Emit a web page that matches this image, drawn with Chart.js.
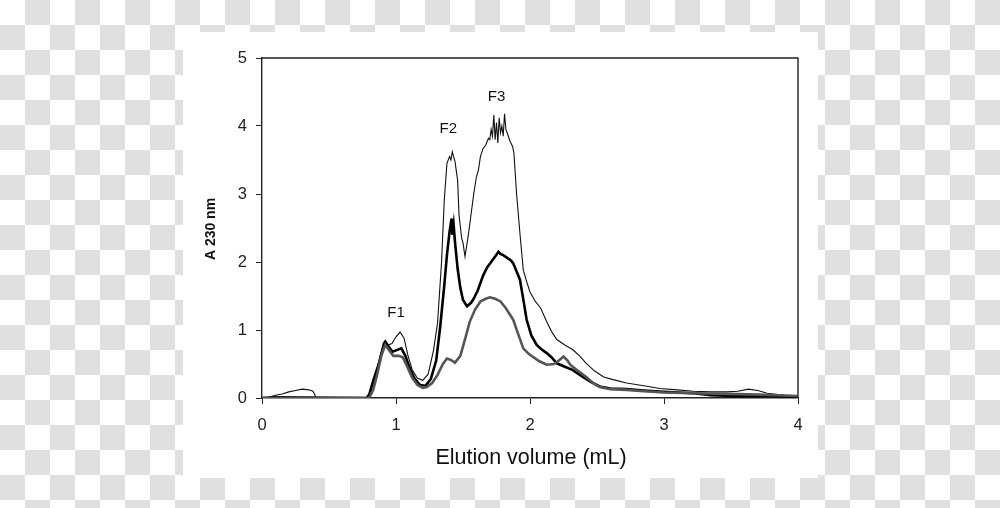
<!DOCTYPE html>
<html>
<head>
<meta charset="utf-8">
<script src="https://cdn.jsdelivr.net/npm/chart.js@4/dist/chart.umd.min.js"></script>
<style>
    html, body { margin: 0; padding: 0; }
    body {
        width: 1000px; height: 508px; overflow: hidden; position: relative;
        background-color: #fff;
        background-image: conic-gradient(#e0e0e0 25%, #fff 0 50%, #e0e0e0 0 75%, #fff 0);
        background-size: 50px 50px;
    }
    #panel { position: absolute; left: 183px; top: 32px; width: 635px; height: 446px; background: #fff; }
    #chart { position: absolute; left: 0; top: 0; }
</style>
</head>
<body>
<div id="panel"></div>
<canvas id="chart" width="1000" height="508"></canvas>
<script>
// elution volume (mL) / absorbance at 230 nm
var thinX = [0, 0.05, 0.1, 0.15, 0.2, 0.25, 0.3, 0.35, 0.38, 0.395, 0.4, 0.78, 0.81, 0.85, 0.88, 0.91, 0.94, 0.97, 1.0, 1.03,
    1.06, 1.09, 1.12, 1.16, 1.2, 1.24, 1.28, 1.31, 1.34, 1.36, 1.38, 1.4, 1.41, 1.42, 1.43, 1.44, 1.46, 1.47, 1.49, 1.5,
    1.515, 1.54, 1.57, 1.58, 1.6, 1.615, 1.63, 1.65, 1.67, 1.69, 1.7, 1.71, 1.72, 1.73, 1.74, 1.75, 1.76, 1.77, 1.78, 1.79,
    1.8, 1.81, 1.82, 1.83, 1.85, 1.87, 1.88, 1.9, 1.925, 1.95, 1.98, 2.0, 2.04, 2.08, 2.125, 2.16, 2.2, 2.26, 2.32, 2.37,
    2.42, 2.48, 2.55, 2.62, 2.72, 2.85, 2.97, 3.1, 3.22, 3.35, 3.47, 3.55, 3.63, 3.7, 3.77, 3.9, 4.0];
var thinY = [0, 0.01, 0.04, 0.06, 0.09, 0.11, 0.13, 0.12, 0.10, 0.05, 0, 0, 0.08, 0.35, 0.62, 0.80, 0.78, 0.80, 0.90, 0.97,
    0.88, 0.62, 0.42, 0.29, 0.26, 0.35, 0.70, 1.10, 2.00, 2.90, 3.45, 3.55, 3.50, 3.62, 3.55, 3.48, 3.20, 2.70, 2.35, 2.28,
    2.08, 2.40, 2.85, 3.00, 3.25, 3.35, 3.55, 3.67, 3.72, 3.82, 3.80, 3.95, 3.85, 4.16, 3.80, 4.05, 3.75, 4.12, 3.90, 4.00,
    3.85, 4.18, 3.95, 3.90, 3.78, 3.70, 3.60, 3.00, 2.42, 1.88, 1.68, 1.56, 1.42, 1.32, 1.12, 0.98, 0.86, 0.78, 0.71, 0.62,
    0.51, 0.40, 0.31, 0.27, 0.22, 0.18, 0.14, 0.12, 0.10, 0.09, 0.09, 0.10, 0.13, 0.11, 0.07, 0.04, 0.03];

var boldX = [0, 0.1, 0.78, 0.8, 0.83, 0.856, 0.88, 0.91, 0.92, 0.95, 0.975, 1.0, 1.04, 1.07, 1.1, 1.14, 1.18, 1.22, 1.26, 1.3,
    1.33, 1.36, 1.38, 1.4, 1.415, 1.42, 1.43, 1.44, 1.46, 1.48, 1.5, 1.53, 1.56, 1.58, 1.61, 1.65, 1.68, 1.71, 1.74, 1.765,
    1.78, 1.8, 1.83, 1.86, 1.875, 1.9, 1.925, 1.95, 1.975, 2.01, 2.05, 2.09, 2.125, 2.16, 2.2, 2.26, 2.32, 2.38, 2.45, 2.52,
    2.6, 2.72, 2.85, 3.0, 3.22, 3.35, 3.5, 3.8, 4.0];
var boldY = [0, 0.01, 0, 0.05, 0.25, 0.41, 0.55, 0.80, 0.83, 0.74, 0.68, 0.70, 0.73, 0.62, 0.45, 0.28, 0.19, 0.18, 0.28, 0.55,
    1.05, 1.65, 2.10, 2.45, 2.64, 2.40, 2.55, 2.30, 1.90, 1.62, 1.44, 1.35, 1.40, 1.46, 1.58, 1.80, 1.92, 2.00, 2.08, 2.15,
    2.12, 2.10, 2.06, 2.02, 1.98, 1.86, 1.74, 1.45, 1.15, 0.92, 0.78, 0.71, 0.66, 0.60, 0.51, 0.46, 0.41, 0.33, 0.24, 0.17,
    0.14, 0.13, 0.11, 0.09, 0.07, 0.04, 0.03, 0.03, 0.02];

var greyX = [0, 0.8, 0.83, 0.86, 0.89, 0.92, 0.95, 0.98, 1.02, 1.05, 1.08, 1.12, 1.16, 1.2, 1.23, 1.27, 1.31, 1.35, 1.38, 1.41,
    1.44, 1.48, 1.52, 1.55, 1.59, 1.63, 1.67, 1.7, 1.74, 1.78, 1.82, 1.875, 1.91, 1.95, 1.99, 2.025, 2.07, 2.125, 2.18, 2.22,
    2.25, 2.28, 2.3, 2.35, 2.42, 2.47, 2.52, 2.6, 2.72, 2.85, 3.0, 3.22, 3.47, 3.7, 3.85, 4.0];
var greyY = [0, 0, 0.12, 0.35, 0.62, 0.78, 0.70, 0.62, 0.62, 0.60, 0.48, 0.30, 0.19, 0.15, 0.16, 0.22, 0.34, 0.50, 0.58, 0.56,
    0.52, 0.62, 0.90, 1.12, 1.30, 1.42, 1.46, 1.48, 1.46, 1.42, 1.32, 1.15, 0.95, 0.73, 0.65, 0.60, 0.54, 0.49, 0.50, 0.56,
    0.61, 0.55, 0.49, 0.41, 0.31, 0.22, 0.16, 0.13, 0.12, 0.10, 0.08, 0.07, 0.06, 0.05, 0.04, 0.03];

var xTicks = [0, 1, 2, 3, 4];
var yTicks = [0, 1, 2, 3, 4, 5];
var peakNames = ['F1', 'F2', 'F3'];
var peakX = [1.0, 1.39, 1.75];
var peakY = [1.25, 3.96, 4.43];

var toPoints = function (xs, ys) {
    return xs.map(function (x, i) { return { x: x, y: ys[i] }; });
};

var fontName = '"Liberation Sans", Arial, sans-serif';

// frame on top/right, peak names and axis titles
var extras = {
    id: 'extras',
    afterDraw: function (chart) {
        var ctx = chart.ctx;
        var a = chart.chartArea;
        var sx = chart.scales.x;
        var sy = chart.scales.y;
        ctx.save();
        ctx.strokeStyle = '#222';
        ctx.lineWidth = 1.4;
        ctx.beginPath();
        ctx.moveTo(a.left, a.top);
        ctx.lineTo(a.right, a.top);
        ctx.lineTo(a.right, a.bottom);
        ctx.stroke();

        ctx.fillStyle = '#111';
        ctx.textAlign = 'center';
        ctx.textBaseline = 'middle';
        ctx.font = '15px ' + fontName;
        peakNames.forEach(function (n, i) {
            ctx.fillText(n, sx.getPixelForValue(peakX[i]), sy.getPixelForValue(peakY[i]));
        });

        ctx.font = '21.5px ' + fontName;
        ctx.fillText('Elution volume (mL)', 531, 458);

        ctx.translate(211, 229);
        ctx.rotate(-Math.PI / 2);
        ctx.font = 'bold 14px ' + fontName;
        ctx.fillText('A 230 nm', 0, 0);
        ctx.restore();
    }
};

var lineSet = function (label, xs, ys, color, width) {
    return {
        label: label,
        data: toPoints(xs, ys),
        borderColor: color,
        borderWidth: width,
        pointRadius: 0,
        tension: 0,
        fill: false
    };
};

var myChart = new Chart(document.getElementById('chart'), {
    type: 'line',
    data: {
        datasets: [
            lineSet('grey', greyX, greyY, '#555', 2.6),
            lineSet('bold', boldX, boldY, '#000', 2.6),
            lineSet('thin', thinX, thinY, '#111', 1.1)
        ]
    },
    options: {
        responsive: false,
        animation: false,
        devicePixelRatio: 1,
        layout: { padding: { left: 0, right: 202, top: 58, bottom: 0 } },
        plugins: { legend: { display: false }, tooltip: { enabled: false } },
        scales: {
            x: {
                type: 'linear',
                min: 0,
                max: 4,
                afterFit: function (s) { s.height = 110; },
                afterBuildTicks: function (s) { s.ticks = xTicks.map(function (v) { return { value: v }; }); },
                grid: { display: true, drawOnChartArea: false, drawTicks: true, tickLength: 6, tickColor: '#222' },
                border: { display: true, color: '#222', width: 1.4 },
                ticks: { padding: 12, color: '#222', font: { family: fontName, size: 16.5 }, maxRotation: 0 }
            },
            y: {
                type: 'linear',
                min: 0,
                max: 5,
                afterFit: function (s) { s.width = 262; },
                afterBuildTicks: function (s) { s.ticks = yTicks.map(function (v) { return { value: v }; }); },
                grid: { display: true, drawOnChartArea: false, drawTicks: true, tickLength: 6, tickColor: '#222' },
                border: { display: true, color: '#222', width: 1.4 },
                ticks: { padding: 9, color: '#222', font: { family: fontName, size: 16.5 } }
            }
        }
    },
    plugins: [extras]
});
</script>
</body>
</html>
